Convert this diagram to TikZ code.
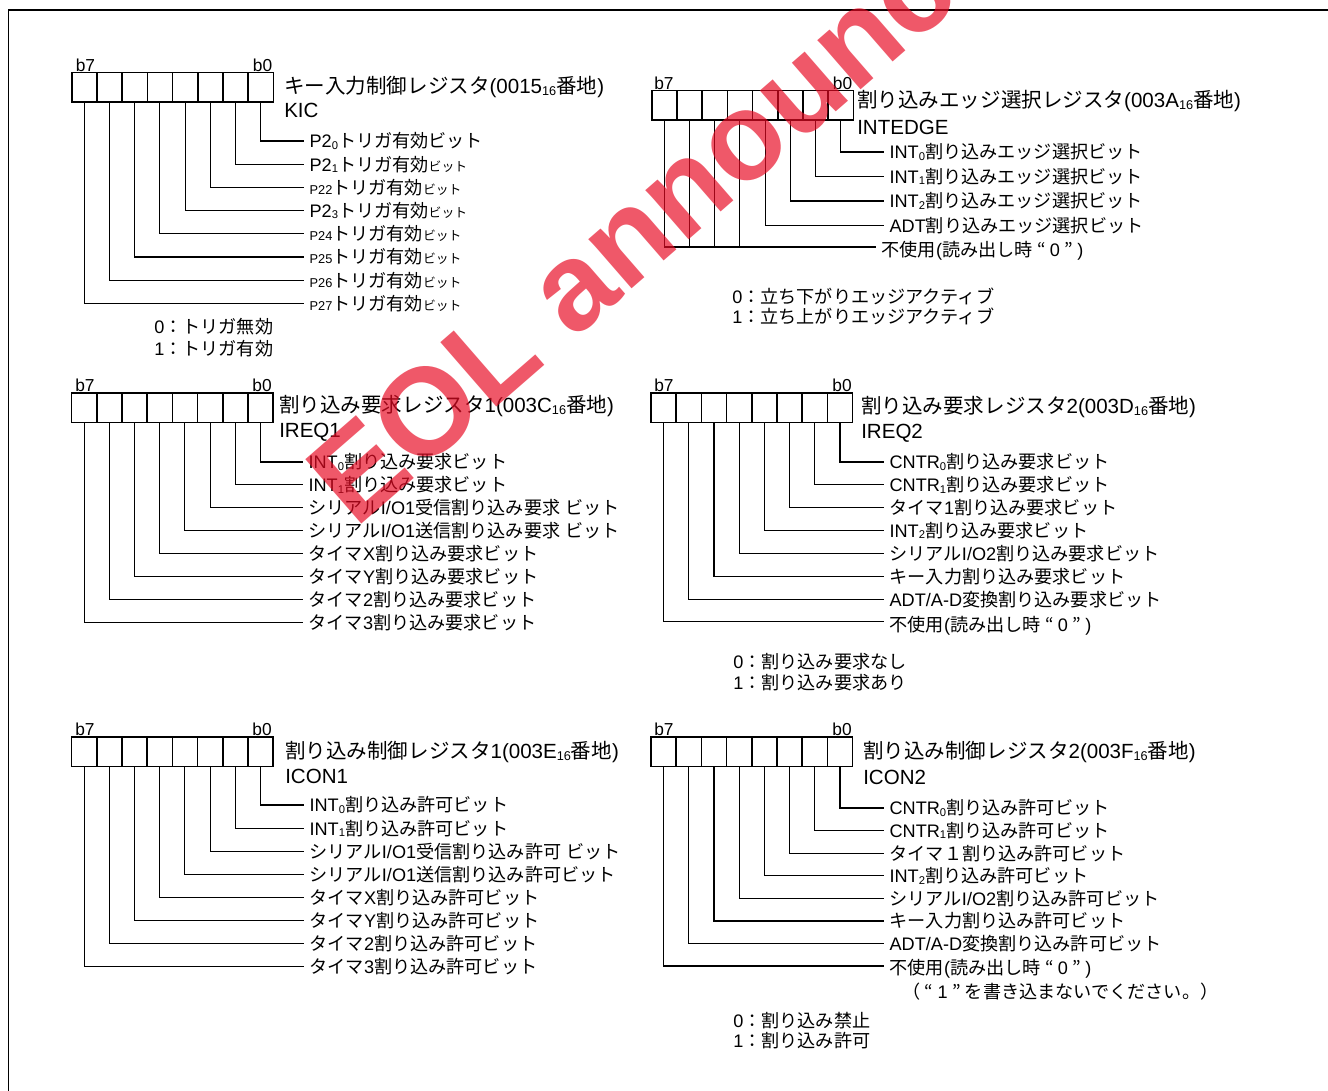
\documentclass[tikz,border=0pt]{standalone}
\usepackage{fontspec}
\usepackage{graphicx}
\setmainfont{Liberation Sans}
\newfontfamily\jpfont{Noto Sans CJK JP}
\XeTeXinterchartokenstate=1
\newXeTeXintercharclass\JPclass
\newcount\jpcnt
\newcommand\setjprange[2]{\jpcnt=#1\relax
  \loop\XeTeXcharclass\jpcnt=\JPclass\relax
  \ifnum\jpcnt<#2\relax\advance\jpcnt by 1\relax\repeat}
\setjprange{"3000}{"30FF}
\setjprange{"4E00}{"9FFF}
\setjprange{"FF00}{"FFEF}
\XeTeXcharclass"201C=\JPclass
\XeTeXcharclass"201D=\JPclass
\XeTeXinterchartoks 0 \JPclass = {\jpfont}
\XeTeXinterchartoks 4095 \JPclass = {\jpfont}
\XeTeXinterchartoks \JPclass 0 = {\rmfamily}
\XeTeXinterchartoks \JPclass 4095 = {\rmfamily}
\newcommand\sbs[1]{\raisebox{-0.15ex}{\scalebox{0.62}{#1}}}
\newcommand\smt{\fontsize{9.6}{10}\selectfont}
\newcommand\oq{\makebox[0.95em][c]{\jpfont “}}
\newcommand\cq{\makebox[0.95em][c]{\jpfont ”}}
\definecolor{wmred}{RGB}{232,10,35}
\tikzset{
  regcell/.style={draw, line width=1.2pt, minimum width=18.9pt, minimum height=22.2pt, inner sep=0pt, outer sep=0pt},
  wire/.style={line width=0.8pt},
  lbl/.style={anchor=west, inner xsep=4pt, inner ysep=0pt, font=\fontsize{13.6}{16}\selectfont},
  ttl/.style={anchor=west, inner sep=0pt, font=\fontsize{15.4}{18}\selectfont},
  lgd/.style={anchor=west, inner sep=0pt, font=\fontsize{13.6}{16}\selectfont},
  bitlbl/.style={inner sep=0pt, font=\fontsize{13}{15}\selectfont},
}
\begin{document}
\begin{tikzpicture}[x=0.75pt, y=-0.75pt]
\useasboundingbox (0,0) rectangle (1328,1091);
\clip (0,0) rectangle (1328,1091);
\fill[white] (0,0) rectangle (1328,1091);
\draw[line width=1pt] (8.5,1091) -- (8.5,10) -- (1328,10);

% ---------------- Block 1: KIC ----------------
\foreach \b in {0,...,7} \node[regcell] (k\b) at ({71.7+25.2*(7-\b)+12.6},87.5) {};
\node[bitlbl, anchor=base west] (kb7) at (75.5,71.5) {b7};
\node[bitlbl, anchor=base east] (kb0) at (272.5,71.5) {b0};
\node[ttl] (kt) at (284,87) {キー入力制御レジスタ(0015\sbs{16}番地)};
\node[ttl] (kn) at (284,110) {KIC};
\node[lbl] (kl0) at (304,141) {P2\sbs{0}トリガ有効ビット};
\node[lbl] (kl1) at (304,164.2) {P2\sbs{1}トリガ有効{\smt ビット}};
\node[lbl] (kl2) at (304,187.4) {{\smt P22}トリガ有効{\smt ビット}};
\node[lbl] (kl3) at (304,210.6) {P2\sbs{3}トリガ有効{\smt ビット}};
\node[lbl] (kl4) at (304,233.8) {{\smt P24}トリガ有効{\smt ビット}};
\node[lbl] (kl5) at (304,257) {{\smt P25}トリガ有効{\smt ビット}};
\node[lbl] (kl6) at (304,280.2) {{\smt P26}トリガ有効{\smt ビット}};
\node[lbl] (kl7) at (304,303.4) {{\smt P27}トリガ有効{\smt ビット}};
\foreach \b in {0,...,7} \draw[wire] (k\b.south) |- (kl\b.west);
\node[lgd] (kg0) at (154,327) {0：トリガ無効};
\node[lgd] (kg1) at (154,349) {1：トリガ有効};

% ---------------- Block 2: INTEDGE ----------------
\foreach \b in {0,...,7} \node[regcell] (e\b) at ({651.7+25.2*(7-\b)+12.6},105.5) {};
\node[bitlbl, anchor=base west] (eb7) at (654,89.5) {b7};
\node[bitlbl, anchor=base east] (eb0) at (852.5,89.5) {b0};
\node[ttl] (et) at (857,101.5) {割り込みエッジ選択レジスタ(003A\sbs{16}番地)};
\node[ttl] (en) at (857,127) {INTEDGE};
\node[lbl] (el0) at (884,152) {INT\sbs{0}割り込みエッジ選択ビット};
\node[lbl] (el1) at (884,176.5) {INT\sbs{1}割り込みエッジ選択ビット};
\node[lbl] (el2) at (884,201) {INT\sbs{2}割り込みエッジ選択ビット};
\node[lbl] (el3) at (884,225.5) {ADT割り込みエッジ選択ビット};
\coordinate (eu) at (876,247);
\node[lbl, yshift=-3pt] (elu) at (eu) {不使用(読み出し時\oq 0\cq)};
\foreach \b in {0,...,3} \draw[wire] (e\b.south) |- (el\b.west);
\draw[wire] (e7.south) |- (eu);
\foreach \b in {4,5,6} \draw[wire] (e\b.south) -- (e\b.south |- eu);
\node[lgd] (eg0) at (732,296) {0：立ち下がりエッジアクティブ};
\node[lgd] (eg1) at (732,316) {1：立ち上がりエッジアクティブ};

% ---------------- Block 3: IREQ1 ----------------
\foreach \b in {0,...,7} \node[regcell] (q\b) at ({71.5+25.2*(7-\b)+12.6},407.8) {};
\node[bitlbl, anchor=base west] (qb7) at (75,391.8) {b7};
\node[bitlbl, anchor=base east] (qb0) at (272,391.8) {b0};
\node[ttl] (qt) at (279,406.5) {割り込み要求レジスタ1(003C\sbs{16}番地)};
\node[ttl] (qn) at (279,432) {IREQ1};
\node[lbl] (ql0) at (303,462) {INT\sbs{0}割り込み要求ビット};
\node[lbl] (ql1) at (303,484.9) {INT\sbs{1}割り込み要求ビット};
\node[lbl] (ql2) at (303,507.8) {シリアルI/O1受信割り込み要求 ビット};
\node[lbl] (ql3) at (303,530.7) {シリアルI/O1送信割り込み要求 ビット};
\node[lbl] (ql4) at (303,553.6) {タイマX割り込み要求ビット};
\node[lbl] (ql5) at (303,576.5) {タイマY割り込み要求ビット};
\node[lbl] (ql6) at (303,599.4) {タイマ2割り込み要求ビット};
\node[lbl] (ql7) at (303,622.3) {タイマ3割り込み要求ビット};
\foreach \b in {0,...,7} \draw[wire] (q\b.south) |- (ql\b.west);

% ---------------- Block 4: IREQ2 ----------------
\foreach \b in {0,...,7} \node[regcell] (r\b) at ({651+25.2*(7-\b)+12.6},407.8) {};
\node[bitlbl, anchor=base west] (rb7) at (654,391.8) {b7};
\node[bitlbl, anchor=base east] (rb0) at (852,391.8) {b0};
\node[ttl] (rt) at (861,407) {割り込み要求レジスタ2(003D\sbs{16}番地)};
\node[ttl] (rn) at (861,433) {IREQ2};
\node[lbl] (rl0) at (884,462) {CNTR\sbs{0}割り込み要求ビット};
\node[lbl] (rl1) at (884,484.9) {CNTR\sbs{1}割り込み要求ビット};
\node[lbl] (rl2) at (884,507.8) {タイマ1割り込み要求ビット};
\node[lbl] (rl3) at (884,530.7) {INT\sbs{2}割り込み要求ビット};
\node[lbl] (rl4) at (884,553.6) {シリアルI/O2割り込み要求ビット};
\node[lbl] (rl5) at (884,576.5) {キー入力割り込み要求ビット};
\node[lbl] (rl6) at (884,599.4) {ADT/A-D変換割り込み要求ビット};
\coordinate (ru) at (884,621.5);
\node[lbl, yshift=-3pt] (rl7) at (ru) {不使用(読み出し時\oq 0\cq)};
\foreach \b in {0,...,6} \draw[wire] (r\b.south) |- (rl\b.west);
\draw[wire] (r7.south) |- (ru);
\node[lgd] (rg0) at (733,662) {0：割り込み要求なし};
\node[lgd] (rg1) at (733,683) {1：割り込み要求あり};

% ---------------- Block 5: ICON1 ----------------
\foreach \b in {0,...,7} \node[regcell] (c\b) at ({71.5+25.2*(7-\b)+12.6},751.8) {};
\node[bitlbl, anchor=base west] (cb7) at (75,735.8) {b7};
\node[bitlbl, anchor=base east] (cb0) at (272,735.8) {b0};
\node[ttl] (ct) at (285,752) {割り込み制御レジスタ1(003E\sbs{16}番地)};
\node[ttl] (cn) at (285,776) {ICON1};
\node[lbl] (cl0) at (304,805) {INT\sbs{0}割り込み許可ビット};
\node[lbl] (cl1) at (304,828.1) {INT\sbs{1}割り込み許可ビット};
\node[lbl] (cl2) at (304,851.2) {シリアルI/O1受信割り込み許可 ビット};
\node[lbl] (cl3) at (304,874.3) {シリアルI/O1送信割り込み許可ビット};
\node[lbl] (cl4) at (304,897.4) {タイマX割り込み許可ビット};
\node[lbl] (cl5) at (304,920.5) {タイマY割り込み許可ビット};
\node[lbl] (cl6) at (304,943.6) {タイマ2割り込み許可ビット};
\node[lbl] (cl7) at (304,966.7) {タイマ3割り込み許可ビット};
\foreach \b in {0,...,7} \draw[wire] (c\b.south) |- (cl\b.west);

% ---------------- Block 6: ICON2 ----------------
\foreach \b in {0,...,7} \node[regcell] (d\b) at ({651+25.2*(7-\b)+12.6},751.8) {};
\node[bitlbl, anchor=base west] (db7) at (654,735.8) {b7};
\node[bitlbl, anchor=base east] (db0) at (852,735.8) {b0};
\node[ttl] (dt) at (863,752) {割り込み制御レジスタ2(003F\sbs{16}番地)};
\node[ttl] (dn) at (863,777) {ICON2};
\node[lbl] (dl0) at (884,808) {CNTR\sbs{0}割り込み許可ビット};
\node[lbl] (dl1) at (884,830.6) {CNTR\sbs{1}割り込み許可ビット};
\node[lbl] (dl2) at (884,853.2) {タイマ１割り込み許可ビット};
\node[lbl] (dl3) at (884,875.8) {INT\sbs{2}割り込み許可ビット};
\node[lbl] (dl4) at (884,898.4) {シリアルI/O2割り込み許可ビット};
\node[lbl] (dl5) at (884,921) {キー入力割り込み許可ビット};
\node[lbl] (dl6) at (884,943.6) {ADT/A-D変換割り込み許可ビット};
\coordinate (du) at (884,966);
\node[lbl, yshift=-2pt] (dl7) at (du) {不使用(読み出し時\oq 0\cq)};
\node[lgd] (dnote) at (902,992) {（\oq 1\cq を書き込まないでください。）};
\foreach \b in {0,...,6} \draw[wire] (d\b.south) |- (dl\b.west);
\draw[wire] (d7.south) |- (du);
\node[lgd] (dg0) at (733,1021) {0：割り込み禁止};
\node[lgd] (dg1) at (733,1041) {1：割り込み許可};

% ---------------- watermark ----------------
\node[rotate=41, anchor=base west, inner sep=0pt, text=wmred, opacity=0.68,
      font=\fontsize{93}{93}\selectfont\bfseries] (wm) at (355,530) {EOL announced};
\end{tikzpicture}
\end{document}
